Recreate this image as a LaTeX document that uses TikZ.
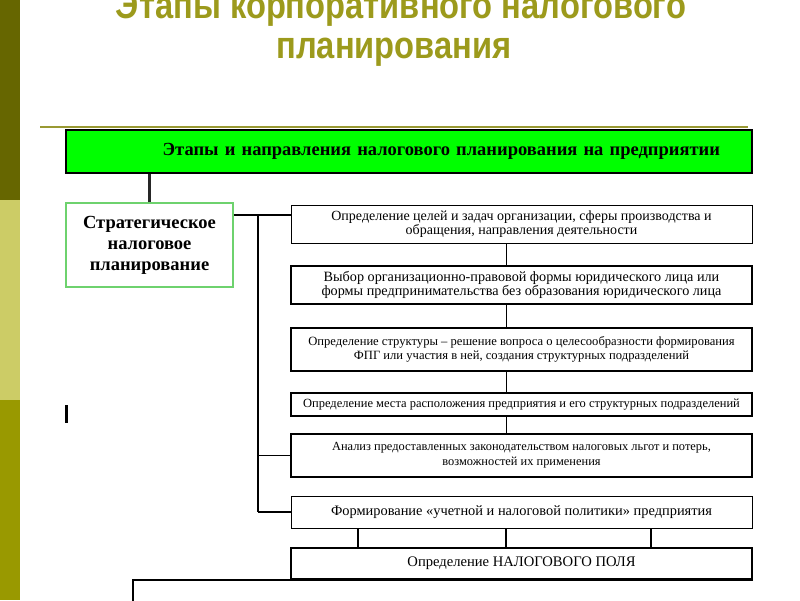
\documentclass[tikz,border=0pt]{standalone}
\usepackage{fontspec}
\setmainfont{Liberation Serif}
\newfontfamily\titrefont[FakeStretch=0.86]{Liberation Sans}
\usepackage{tikz}
\definecolor{olive1}{RGB}{102,102,0}
\definecolor{olive2}{RGB}{204,204,102}
\definecolor{olive3}{RGB}{153,153,0}
\definecolor{titre}{RGB}{156,154,28}
\definecolor{regle}{RGB}{153,153,51}
\definecolor{vert}{RGB}{0,255,0}
\definecolor{vertbord}{RGB}{110,210,110}
\tikzset{
	etpnode/.style = {align=center, inner sep=0pt, text centered},
	etp_titre/.style = {etpnode, anchor=base, text=titre,
		font=\titrefont\bfseries\fontsize{38}{40}\selectfont},% заголовок слайда
	etp_zag/.style = {etpnode, draw=black, fill=vert, line width=1.5pt,
		minimum width=686pt, minimum height=43pt,
		font=\bfseries\fontsize{18.5}{20}\selectfont},% зелёная шапка
	etp_strat/.style = {etpnode, draw=vertbord, line width=1.5pt,
		minimum width=167pt, minimum height=84pt,
		font=\bfseries\fontsize{18.5}{21}\selectfont},% стратегическое
	etp_b/.style = {etpnode, draw=black, line width=1.2pt,
		minimum width=461pt, font=\fontsize{12.6}{14}\selectfont}% этап
}

\begin{document}
\begin{tikzpicture}[x=1pt,y=-1pt,line width=1.2pt]
	\useasboundingbox (0,0) rectangle (800,600);
	\fill[olive1] (0,0) rectangle (20,200);
	\fill[olive2] (0,200) rectangle (20,400);
	\fill[olive3] (0,400) rectangle (20,600);
	\node [etp_titre] (titre1) at (401,18) {Этапы корпоративного налогового};
	\node [etp_titre] (titre2) at (394,58) {планирования};
	\draw[regle, line width=2pt] (40,127) -- (748,127);
	\node [etp_zag, text width=622pt, align=right] (zag) at (409,151.5)
		{Этапы и направления налогового планирования на предприятии};
	\node [etp_strat] (strat) at (149.5,245)
		{Стратегическое\\налоговое\\планирование};
	\node [etp_b] (b1) at (521.5,224) [minimum height=38pt, line width=1pt,
		font=\fontsize{14}{14}\selectfont]
		{Определение целей и задач организации, сферы производства и\\обращения, направления деятельности};
	\node [etp_b] (b2) at (521.5,285) [minimum height=38pt, line width=2pt,
		font=\fontsize{14.2}{14}\selectfont]
		{Выбор организационно-правовой формы юридического лица или\\формы предпринимательства без образования юридического лица};
	\node [etp_b] (b3) at (521.5,349.5) [minimum height=43pt]
		{Определение структуры – решение вопроса о целесообразности формирования\\ФПГ или участия в ней, создания структурных подразделений};
	\node [etp_b] (b4) at (521.5,404.5) [minimum height=23pt, line width=1.6pt,
		font=\fontsize{12.5}{14}\selectfont]
		{Определение места расположения предприятия и его структурных подразделений};
	\node [etp_b] (b5) at (521.5,455.5) [minimum height=43pt, line width=2pt,
		font=\fontsize{12.4}{15}\selectfont]
		{Анализ предоставленных законодательством налоговых льгот и потерь,\\возможностей их применения};
	\node [etp_b] (b6) at (521.5,512) [minimum height=32pt, line width=1pt,
		font=\fontsize{14.4}{15}\selectfont]
		{Формирование «учетной и налоговой политики» предприятия};
	\node [etp_b] (b7) at (521.5,563.5) [minimum height=31pt, line width=2pt,
		font=\fontsize{14.6}{15}\selectfont]
		{Определение НАЛОГОВОГО ПОЛЯ};
	% соединения
	\coordinate (kn) at (258,215);
	\coordinate (ax) at (506,0);
	\coordinate (bas) at (133,603);
	\draw[line width=3pt, black!85] (strat.north) -- (strat.north |- zag.south);
	\draw (strat.east |- kn) -- (b1.west |- kn);
	\draw (kn) -- (kn |- b6.west);
	\draw[line width=1pt] (kn |- b5.west) -- (b5.west);
	\draw[line width=2pt] (kn |- b6.west) -- (b6.west);
	\foreach \h/\n in {b1/b2, b2/b3, b3/b4, b4/b5}
		\draw[line width=1pt] (\h.south -| ax) -- (\n.north -| ax);
	\foreach \x in {358, 506, 651}
		\draw[line width=1.5pt] (b6.south -| \x,0) -- (b7.north -| \x,0);
	\draw[line width=2pt] (b7.south east) -| (bas);
	\draw[line width=3pt] (66,405) -- (66,423);
\end{tikzpicture}
\end{document}
